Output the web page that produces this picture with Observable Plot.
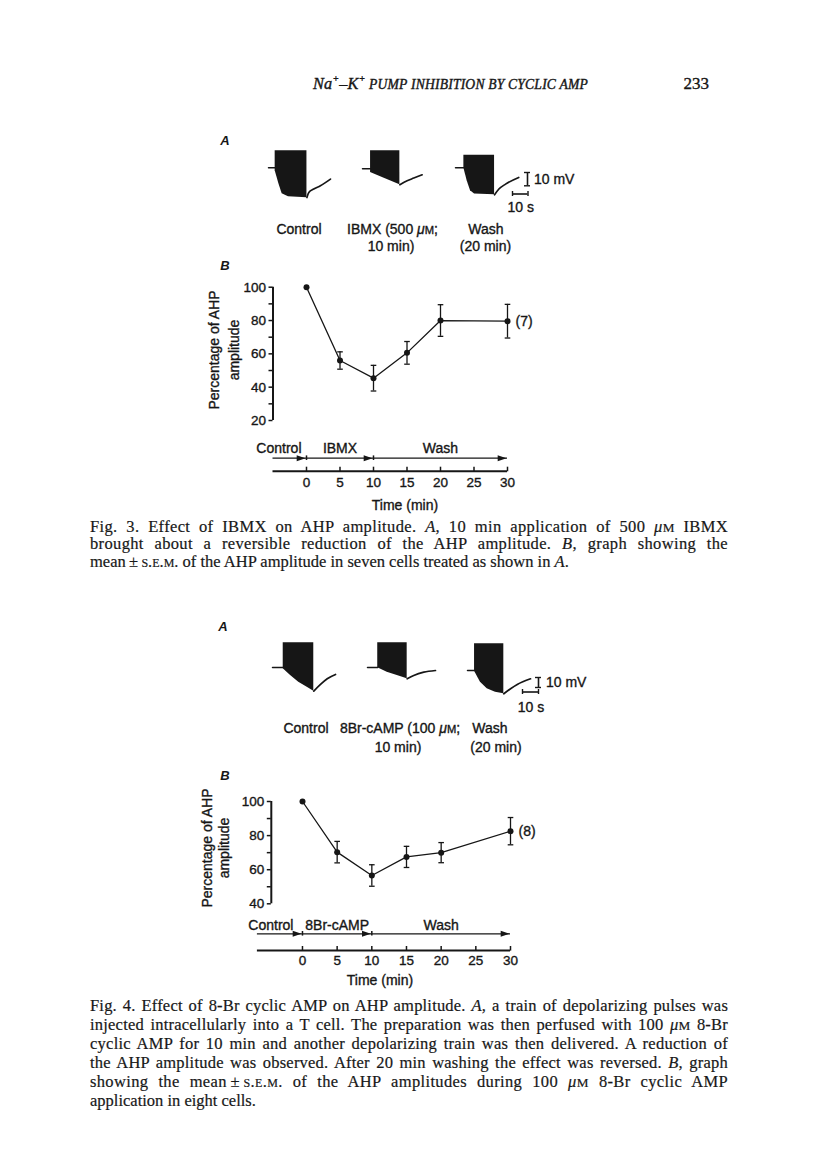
<!DOCTYPE html>
<html>
<head>
<meta charset="utf-8">
<script src="https://cdn.jsdelivr.net/npm/d3@7"></script>
<script src="https://cdn.jsdelivr.net/npm/@observablehq/plot@0.6"></script>
<style>
  html, body { margin:0; padding:0; background:#fff; }
  #page { position:relative; width:816px; height:1160px; overflow:hidden; background:#fff; color:#161616; font-family:"Liberation Sans", Arial, sans-serif; }
  .t { position:absolute; white-space:nowrap; line-height:1; transform:translate(-50%,-50%); }
  .sans { font-family:"Liberation Sans", Arial, sans-serif; font-size:14px; -webkit-text-stroke:0.35px #161616; }
  .ytitle { font-family:"Liberation Sans", Arial, sans-serif; font-size:14px; -webkit-text-stroke:0.35px #161616; text-align:center; }
  .panel { font-family:"Liberation Sans", Arial, sans-serif; font-style:italic; font-weight:bold; font-size:13px; }
  .hdr { font-family:"Liberation Serif", serif; font-style:italic; font-size:14.6px; -webkit-text-stroke:0.4px #161616; transform-origin:0 50%; letter-spacing:0.2px; }
  .hdr .big { font-size:17.5px; }
  .num { font-family:"Liberation Serif", serif; font-size:17px; -webkit-text-stroke:0.35px #161616; }
  .cap { position:absolute; left:90px; width:638px; font-family:"Liberation Serif", serif; font-size:16.5px; color:#181818; -webkit-text-stroke:0.2px #181818; }
  .cap div { white-space:nowrap; }
  .sc { font-variant:small-caps; }
  .plot { position:absolute; }
  .plot svg { overflow:visible; display:block; }
  .plot svg text { stroke:#161616; stroke-width:0.35px; }
</style>
</head>
<body>
<div id="page"></div>
<script>
// ================= DATA =================
// Graphs B: time (min), mean % of AHP amplitude, s.e.m.
const timesMin = [0, 5, 10, 15, 20, 30];
const fig3Mean = [100, 56, 45.4, 60.6, 80, 79.6];
const fig3Sem  = [0, 5.2, 7.7, 6.8, 9.5, 10.1];
const fig3N = 7;
const fig4Mean = [100, 70.3, 56.6, 67.5, 70, 82.6];
const fig4Sem  = [0, 6.3, 6.3, 6.2, 5.9, 8];
const fig4N = 8;
const fig3YTicks = [20, 40, 60, 80, 100];
const fig3YMinor = [30, 50, 70, 90];
const fig4YTicks = [40, 60, 80, 100];
const fig4YMinor = [50, 70, 90];
const xTicks = [0, 5, 10, 15, 20, 25, 30];
// protocol bars
const fig3Phases = ["Control", "IBMX", "Wash"];
const fig4Phases = ["Control", "8Br-cAMP", "Wash"];
const fig3PhaseStart = [-5, 0, 10];
const fig4PhaseStart = [-6.5, 0, 10];
const phaseEnd = [0, 10, 30];

// Traces A: [time s, membrane potential mV] ; blocks: [time s, lower envelope mV, spike peaks mV]
const f3CtrlStub  = [[0, 0], [4.3, 0]];
const f3CtrlBlock = [[4.3, -2.3, 12.8], [6.7, -12, 12.8], [8.8, -19.5, 12.8], [12.9, -21.8, 12.8], [24.8, -22.6, 12.8]];
const f3CtrlRec   = [[24.8, -22.4], [26, -18.6], [29.2, -16], [33.5, -13.5], [40, -8.5]];
const f3DrugStub  = [[0, 0], [5.2, 0]];
const f3DrugBlock = [[5.2, -2.8, 13.5], [14.8, -7.5, 13.5], [24.1, -12, 13.5]];
const f3DrugRec   = [[24.1, -12], [28.8, -9], [33.1, -7], [38.5, -4.5]];
const f3WashStub  = [[0, 0], [5.4, 0]];
const f3WashBlock = [[5.4, -0.2, 9.5], [7.5, -9.8, 9.5], [9.7, -17.3, 9.5], [12.3, -19.8, 9.5], [25.2, -20.3, 9.5]];
const f3WashRec   = [[25.2, -20.3], [28, -16], [32.3, -12.3], [40.8, -7.3]];

const f4CtrlStub  = [[0, 0], [6.7, 0]];
const f4CtrlBlock = [[6.7, -1.3, 24.7], [11.3, -8, 24.7], [16.4, -14.7, 24.7], [21.7, -19.7, 24.7], [25.8, -23.7, 24.7]];
const f4CtrlRec   = [[25.8, -23.7], [30, -17], [34.2, -11.3], [39.4, -7]];
const f4DrugStub  = [[0, 0], [6.4, 0]];
const f4DrugBlock = [[6.4, -0.3, 24.7], [12.3, -4.7, 24.7], [18.6, -8, 24.7], [24.8, -11.3, 24.7]];
const f4DrugRec   = [[24.8, -11.3], [28.9, -8], [35.2, -4.7], [42.5, -3]];
const f4WashStub  = [[0, 0], [4.4, 0]];
const f4WashBlock = [[4.4, -0.7, 26.7], [8.1, -11.7, 26.7], [12.3, -18.3, 26.7], [17.5, -21.7, 26.7], [22.7, -23.3, 26.7]];
const f4WashRec   = [[22.7, -23.3], [26.9, -18.3], [31.1, -14], [39.4, -8.3]];

const scaleBarMV = 10;
const scaleBarS = 10;

// text
const headerText = '<span class="big">Na<sup style="font-size:.6em">+</sup>–K<sup style="font-size:.6em">+</sup></span> PUMP INHIBITION BY CYCLIC AMP';
const pageNumber = "233";
const uM = '<i>μ</i><span style="font-size:.8em">M</span>';
const fig3TraceLabels = ["Control", "IBMX (500 " + uM + ";", "10 min)", "Wash", "(20 min)"];
const fig4TraceLabels = ["Control", "8Br-cAMP (100 " + uM + ";", "10 min)", "Wash", "(20 min)"];
const yTitleLines = ["Percentage of AHP", "amplitude"];
const xTitle = "Time (min)";
const fig3Caption = [
  'Fig. 3. Effect of IBMX on AHP amplitude. <i>A</i>, 10 min application of 500 ' + uM + ' IBMX',
  'brought about a reversible reduction of the AHP amplitude. <i>B</i>, graph showing the',
  'mean&thinsp;±&thinsp;<span class="sc">s.e.m.</span> of the AHP amplitude in seven cells treated as shown in <i>A</i>.'
];
const fig4Caption = [
  'Fig. 4. Effect of 8-Br cyclic AMP on AHP amplitude. <i>A</i>, a train of depolarizing pulses was',
  'injected intracellularly into a T cell. The preparation was then perfused with 100 ' + uM + ' 8-Br',
  'cyclic AMP for 10 min and another depolarizing train was then delivered. A reduction of',
  'the AHP amplitude was observed. After 20 min washing the effect was reversed. <i>B</i>, graph',
  'showing the mean&thinsp;±&thinsp;<span class="sc">s.e.m.</span> of the AHP amplitudes during 100 ' + uM + ' 8-Br cyclic AMP',
  'application in eight cells.'
];

// ================= HELPERS =================
const page = document.getElementById("page");
const INK = "#161616";
const plotStyle = {fontFamily: '"Liberation Sans", Arial, sans-serif', fontSize: "13px", color: INK, background: "transparent", overflow: "visible"};

function addText(html, x, y, cls, anchor = "middle") {
  const d = document.createElement("div");
  d.className = "t " + cls;
  d.innerHTML = html;
  d.style.left = x + "px";
  d.style.top = y + "px";
  if (anchor === "start") d.style.transform = "translate(0,-50%)";
  if (anchor === "end") d.style.transform = "translate(-100%,-50%)";
  page.appendChild(d);
  return d;
}
function addYTitle(cx, cy, lh) {
  const d = document.createElement("div");
  d.className = "t ytitle";
  d.innerHTML = yTitleLines.join("<br>");
  d.style.lineHeight = lh + "px";
  d.style.left = cx + "px";
  d.style.top = cy + "px";
  d.style.transform = "translate(-50%,-50%) rotate(-90deg)";
  page.appendChild(d);
}
function addPlot(svg, left, top) {
  const d = document.createElement("div");
  d.className = "plot";
  d.style.left = left + "px";
  d.style.top = top + "px";
  d.appendChild(svg);
  page.appendChild(d);
}
const arrowHead = {draw(ctx, size) { const r = Math.sqrt(size / Math.PI); ctx.moveTo(0, 0); ctx.lineTo(-2 * r, -0.68 * r); ctx.lineTo(-2 * r, 0.68 * r); ctx.closePath(); }};
const capSymbol = {draw(ctx, size) { const r = Math.sqrt(size / Math.PI); ctx.moveTo(-r, 0); ctx.lineTo(r, 0); }};

function tracePlot(stub, block, rec, s) {
  const w = s.tMax * s.pxS, h = (s.vMax - s.vMin) * s.pxMV;
  return Plot.plot({
    width: w, height: h, margin: 0,
    x: {domain: [0, s.tMax], axis: null},
    y: {domain: [s.vMin, s.vMax], axis: null},
    style: plotStyle,
    marks: [
      Plot.areaY(block, {x: d => d[0], y1: d => d[1], y2: d => d[2], fill: INK}),
      Plot.line(stub, {x: d => d[0], y: d => d[1], stroke: INK, strokeWidth: 1.5}),
      Plot.line(rec, {x: d => d[0], y: d => d[1], stroke: INK, strokeWidth: 1.7, curve: "monotone-x"})
    ]
  });
}
function placeTrace(stub, block, rec, s, originX, originY) {
  addPlot(tracePlot(stub, block, rec, s), originX, originY - s.vMax * s.pxMV);
}
function scaleBars(s, vx, vTop, hLeft, hY) {
  const vh = scaleBarMV * s.pxMV;
  addPlot(Plot.plot({
    width: 6, height: vh, margin: 0,
    y: {domain: [0, scaleBarMV], axis: null},
    style: plotStyle,
    marks: [
      Plot.ruleX([scaleBarMV], {x: null, y1: 0, y2: d => d, stroke: INK, strokeWidth: 1.6}),
      Plot.tickY([0, scaleBarMV], {y: d => d, stroke: INK, strokeWidth: 1.4})
    ]
  }), vx - 3, vTop);
  const hw = scaleBarS * s.pxS;
  addPlot(Plot.plot({
    width: hw, height: 5, margin: 0,
    x: {domain: [0, scaleBarS], axis: null},
    style: plotStyle,
    marks: [
      Plot.ruleY([scaleBarS], {y: null, x1: 0, x2: d => d, stroke: INK, strokeWidth: 1.6}),
      Plot.tickX([0, scaleBarS], {x: d => d, stroke: INK, strokeWidth: 1.4})
    ]
  }), hLeft, hY - 2.5);
}

function graphPlot(c) {
  const data = timesMin.map((t, i) => ({t, mean: c.mean[i], sem: c.sem[i]}));
  const err = data.filter(d => d.sem > 0);
  const yAll = [...c.yTicks, ...c.yMinor].sort((a, b) => a - b);
  const yMin = c.yTicks[0], yMax = c.yTicks[c.yTicks.length - 1];
  return Plot.plot({
    width: c.width, height: c.height,
    marginLeft: c.ml, marginRight: c.mr, marginTop: c.mt, marginBottom: c.mb,
    x: {domain: c.xDomain, axis: null, label: null},
    y: {domain: [yMin, yMax], axis: null, label: null},
    style: plotStyle,
    marks: [
      Plot.ruleX([c.xDomain[0]], {x: d => d, y1: yMin, y2: yMax, stroke: INK, strokeWidth: 2}),
      Plot.axisY(yAll, {anchor: "left", tickSize: 4, tickPadding: 3, strokeWidth: 1.5, label: null,
        tickFormat: d => c.yTicks.includes(d) ? String(d) : "", fontSize: 13.5}),
      Plot.line(data, {x: "t", y: "mean", stroke: INK, strokeWidth: 1.3}),
      Plot.ruleX(err, {x: "t", y1: d => d.mean - d.sem, y2: d => d.mean + d.sem, stroke: INK, strokeWidth: 1.3}),
      Plot.dot(err, {x: "t", y: d => d.mean - d.sem, symbol: capSymbol, r: 2.8, stroke: INK, fill: "none", strokeWidth: 1.3}),
      Plot.dot(err, {x: "t", y: d => d.mean + d.sem, symbol: capSymbol, r: 2.8, stroke: INK, fill: "none", strokeWidth: 1.3}),
      Plot.dot(data, {x: "t", y: "mean", r: 3, fill: INK, stroke: "none"}),
      Plot.text([data[data.length - 1]], {x: "t", y: "mean", text: () => `(${c.n})`, dx: 8, textAnchor: "start", fontSize: 14})
    ]
  });
}

function protocolPlot(c) {
  const proto = c.phases.map((p, i) => ({phase: p, start: c.starts[i], end: phaseEnd[i]}));
  const x0 = c.starts[0], x1 = xTicks[xTicks.length - 1];
  return Plot.plot({
    width: c.width, height: c.height,
    marginLeft: c.ml, marginRight: c.mr, marginTop: c.mt, marginBottom: c.mb,
    x: {domain: [x0, x1], axis: null, label: null},
    style: plotStyle,
    marks: [
      Plot.ruleY(proto, {x1: "start", x2: "end", y: null, stroke: INK, strokeWidth: 1.2}),
      Plot.dot(proto, {x: "end", symbol: arrowHead, r: 4.4, fill: INK, stroke: "none", dx: -1}),
      Plot.tickX(proto.slice(1), {x: "start", stroke: INK, strokeWidth: 1.5}),
      Plot.text(proto.slice(0, 1), {x: "end", text: "phase", textAnchor: "end", dx: c.ctrlDx, frameAnchor: "top", dy: c.labelDy, fontSize: 14}),
      Plot.text(proto.slice(1), {x: d => (d.start + d.end) / 2, text: "phase", frameAnchor: "top", dy: c.labelDy, fontSize: 14}),
      Plot.ruleY([x0], {x1: d => d, x2: x1, y: null, dy: c.axisDy, stroke: INK, strokeWidth: 2}),
      Plot.ruleX(xTicks, {x: d => d, dy: c.tickDy, stroke: INK, strokeWidth: 1.5}),
      Plot.text(xTicks, {x: d => d, text: d => String(d), frameAnchor: "bottom", dy: c.tickLabelDy, fontSize: 13.5})
    ]
  });
}

function caption(lines, top, lh) {
  const box = document.createElement("div");
  box.className = "cap";
  box.style.top = top + "px";
  page.appendChild(box);
  const W = 638;
  lines.forEach((html, i) => {
    const line = document.createElement("div");
    line.style.height = lh + "px";
    line.style.lineHeight = lh + "px";
    const span = document.createElement("span");
    span.innerHTML = html;
    line.appendChild(span);
    box.appendChild(line);
    if (i === lines.length - 1) return;
    const natural = span.getBoundingClientRect().width;
    const chars = span.textContent.length;
    const spaces = (span.textContent.match(/ /g) || []).length;
    const extra = W - natural;
    if (extra < 0) {
      span.style.letterSpacing = (extra / chars) + "px";
    } else {
      const ls = Math.min(0.35, (extra * 0.4) / chars);
      span.style.letterSpacing = ls + "px";
      const rest = W - span.getBoundingClientRect().width;
      if (spaces > 0) span.style.wordSpacing = (rest / spaces) + "px";
    }
  });
}

// ================= PAGE =================
// running header, fitted to the width it takes in the original
const hdr = addText(headerText, 313, 83, "hdr", "start");
const hw = hdr.getBoundingClientRect().width;
hdr.style.transform = `translate(0,-50%) scaleX(${275 / hw})`;
addText(pageNumber, 709, 83, "num", "end");

// ---------- Fig. 3 ----------
addText("A", 225, 140, "panel");
const s3 = {pxS: 1.55, pxMV: 1.33, tMax: 42, vMin: -25, vMax: 16};
placeTrace(f3CtrlStub, f3CtrlBlock, f3CtrlRec, s3, 268, 167);
placeTrace(f3DrugStub, f3DrugBlock, f3DrugRec, s3, 362, 168);
placeTrace(f3WashStub, f3WashBlock, f3WashRec, s3, 455, 167);
scaleBars(s3, 526.7, 171.7, 511.5, 193.3);
addText("10 mV", 534, 178.5, "sans", "start");
addText("10 s", 520.8, 207, "sans");
addText(fig3TraceLabels[0], 299, 229, "sans");
addText(fig3TraceLabels[1], 392.5, 229, "sans");
addText(fig3TraceLabels[2], 391, 245.7, "sans");
addText(fig3TraceLabels[3], 486, 229, "sans");
addText(fig3TraceLabels[4], 485.5, 245.7, "sans");

addText("B", 225, 265, "panel");
addPlot(graphPlot({mean: fig3Mean, sem: fig3Sem, n: fig3N, yTicks: fig3YTicks, yMinor: fig3YMinor,
  xDomain: [-5, 30], width: 400, height: 160, ml: 122.5, mr: 43, mt: 16.7, mb: 10}), 150, 270);
addYTitle(224, 350, 20);
addPlot(protocolPlot({phases: fig3Phases, starts: fig3PhaseStart, width: 400, height: 90,
  ml: 122.5, mr: 43, mt: 25.4, mb: 60, ctrlDx: -5, labelDy: -12.4, axisDy: 13, tickDy: 11.3, tickLabelDy: 26}), 150, 430);
addText(xTitle, 405, 505, "sans");

caption(fig3Caption, 517.9, 17.6);

// ---------- Fig. 4 ----------
addText("A", 223, 626, "panel");
const s4 = {pxS: 1.6, pxMV: 1.0, tMax: 44, vMin: -26, vMax: 28};
placeTrace(f4CtrlStub, f4CtrlBlock, f4CtrlRec, s4, 272, 667);
placeTrace(f4DrugStub, f4DrugBlock, f4DrugRec, s4, 367, 667);
placeTrace(f4WashStub, f4WashBlock, f4WashRec, s4, 467, 670);
scaleBars(s4, 538.3, 676.7, 522.3, 691);
addText("10 mV", 546, 681.5, "sans", "start");
addText("10 s", 531, 706.7, "sans");
addText(fig4TraceLabels[0], 306, 728, "sans");
addText(fig4TraceLabels[1], 400, 728, "sans");
addText(fig4TraceLabels[2], 398, 747, "sans");
addText(fig4TraceLabels[3], 490, 728, "sans");
addText(fig4TraceLabels[4], 496, 747, "sans");

addText("B", 225, 775, "panel");
addPlot(graphPlot({mean: fig4Mean, sem: fig4Sem, n: fig4N, yTicks: fig4YTicks, yMinor: fig4YMinor,
  xDomain: [-4.5, 30], width: 400, height: 130, ml: 120.8, mr: 40, mt: 16, mb: 11.7}), 150, 785);
addYTitle(215.7, 848, 16.7);
addPlot(protocolPlot({phases: fig4Phases, starts: fig4PhaseStart, width: 400, height: 90,
  ml: 106.9, mr: 40, mt: 26, mb: 59.4, ctrlDx: -9, labelDy: -11, axisDy: 16.7, tickDy: 15, tickLabelDy: 28.4}), 150, 905);
addText(xTitle, 380, 980, "sans");

caption(fig4Caption, 995.5, 19);
</script>
</body>
</html>
